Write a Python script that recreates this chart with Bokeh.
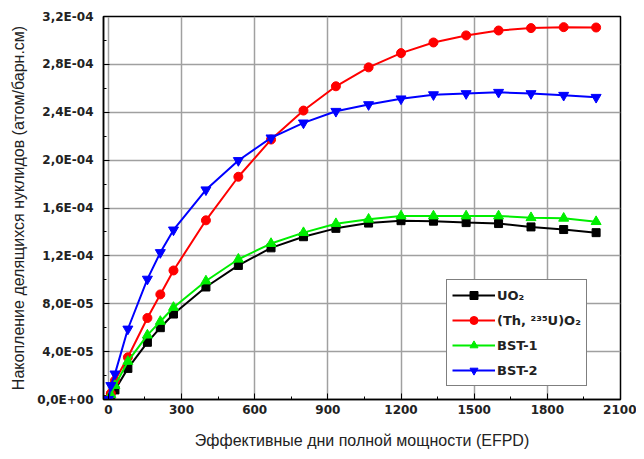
from bokeh.plotting import figure
from bokeh.models import FixedTicker, CustomJSTickFormatter, Range1d, Legend, LegendItem
from bokeh.embed import file_html
from bokeh.resources import INLINE

# Effective full power days
efpd = [0, 10, 27, 80, 160, 213, 267, 400, 533, 667, 800, 933, 1067, 1200, 1333, 1467, 1600, 1733, 1867, 2000]

# Accumulation of fissile nuclides (atom/barn.cm)
uo2 = [0.0, 0.03e-4, 0.08e-4, 0.26e-4, 0.478e-4, 0.60e-4, 0.714e-4, 0.94e-4, 1.12e-4, 1.267e-4,
       1.36e-4, 1.43e-4, 1.474e-4, 1.494e-4, 1.49e-4, 1.478e-4, 1.47e-4, 1.442e-4, 1.42e-4, 1.394e-4]
thu = [0.0, 0.05e-4, 0.158e-4, 0.353e-4, 0.681e-4, 0.878e-4, 1.078e-4, 1.497e-4, 1.861e-4, 2.172e-4,
       2.414e-4, 2.617e-4, 2.775e-4, 2.894e-4, 2.983e-4, 3.042e-4, 3.083e-4, 3.103e-4, 3.111e-4, 3.108e-4]
bst1 = [0.0, 0.04e-4, 0.117e-4, 0.318e-4, 0.538e-4, 0.652e-4, 0.769e-4, 0.99e-4, 1.172e-4, 1.303e-4,
        1.394e-4, 1.469e-4, 1.506e-4, 1.533e-4, 1.533e-4, 1.533e-4, 1.533e-4, 1.519e-4, 1.514e-4, 1.486e-4]
bst2 = [0.0, 0.117e-4, 0.214e-4, 0.589e-4, 1.006e-4, 1.228e-4, 1.417e-4, 1.752e-4, 1.997e-4, 2.186e-4,
        2.311e-4, 2.408e-4, 2.464e-4, 2.512e-4, 2.547e-4, 2.556e-4, 2.567e-4, 2.556e-4, 2.542e-4, 2.525e-4]

series_labels = ["UO\u2082", "(Th, \u00b2\u00b3\u2075U)O\u2082", "BST-1", "BST-2"]

x_ticks = [0, 300, 600, 900, 1200, 1500, 1800, 2100]
x_minor = [150, 450, 750, 1050, 1350, 1650, 1950]
y_ticks = [0.0, 0.4e-4, 0.8e-4, 1.2e-4, 1.6e-4, 2.0e-4, 2.4e-4, 2.8e-4, 3.2e-4]
y_minor = [0.2e-4, 0.6e-4, 1.0e-4, 1.4e-4, 1.8e-4, 2.2e-4, 2.6e-4, 3.0e-4]

FONT = "Liberation Sans"
WIDE = "DejaVu Sans"

p = figure(width=636, height=451, output_backend="svg", toolbar_location=None,
           x_range=Range1d(-20, 2100), y_range=Range1d(0, 3.2e-4),
           min_border_left=103, min_border_right=16, min_border_top=16, min_border_bottom=51)

p.outline_line_color = "black"
p.outline_line_width = 1.5

for g in (p.xgrid[0], p.ygrid[0]):
    g.grid_line_color = "#a0a0a0"
    g.grid_line_width = 1.5

p.xaxis.ticker = FixedTicker(ticks=x_ticks, minor_ticks=x_minor)
p.yaxis.ticker = FixedTicker(ticks=y_ticks, minor_ticks=y_minor)
p.yaxis.formatter = CustomJSTickFormatter(code="""
    const s = tick.toExponential(1);
    const parts = s.split('e');
    const sign = parts[1][0];
    let d = parts[1].slice(1);
    if (d.length < 2) { d = '0' + d; }
    return parts[0].replace('.', ',') + 'E' + sign + d;
""")

for ax in (p.xaxis[0], p.yaxis[0]):
    ax.axis_line_color = "black"
    ax.axis_line_width = 1.5
    ax.major_tick_in = 6
    ax.major_tick_out = 0
    ax.minor_tick_in = 3
    ax.minor_tick_out = 0
    ax.major_tick_line_color = "black"
    ax.minor_tick_line_color = "black"
    ax.major_label_text_font = WIDE
    ax.major_label_text_font_style = "bold"
    ax.major_label_text_font_size = "12px"
    ax.major_label_text_color = "#222222"
    ax.axis_label_text_font = FONT
    ax.axis_label_text_font_style = "normal"
    ax.axis_label_text_font_size = "16px"
    ax.axis_label_text_color = "#222222"

p.xaxis.axis_label = "Эффективные дни полной мощности (EFPD)"
p.yaxis.axis_label = "Накопление делящихся нуклидов (атом/барн.см)"
p.xaxis.major_label_standoff = 5
p.xaxis.axis_label_standoff = 15
p.yaxis.major_label_standoff = 10
p.yaxis.axis_label_standoff = 7

items = []
specs = [
    (uo2, "black", "square", 8),
    (thu, "red", "circle", 9),
    (bst1, "#00ee00", "triangle", 10),
    (bst2, "blue", "inverted_triangle", 10),
]
for (ys, color, marker, size), lab in zip(specs, series_labels):
    r1 = p.line(efpd, ys, line_color=color, line_width=2)
    r2 = p.scatter(efpd, ys, marker=marker, size=size, fill_color=color, line_color=color)
    items.append(LegendItem(label=lab, renderers=[r1, r2]))

legend = Legend(items=items, location=(343, 13))
legend.border_line_color = "black"
legend.border_line_width = 1.5
legend.background_fill_alpha = 1.0
legend.label_text_font = WIDE
legend.label_text_font_style = "bold"
legend.label_text_font_size = "13px"
legend.label_text_color = "#222222"
legend.glyph_width = 43
legend.glyph_height = 20
legend.label_height = 20
legend.label_standoff = 2
legend.spacing = 5
legend.padding = 5
legend.margin = 0
p.add_layout(legend, "center")

open("out.html", "w").write(file_html(p, INLINE))
